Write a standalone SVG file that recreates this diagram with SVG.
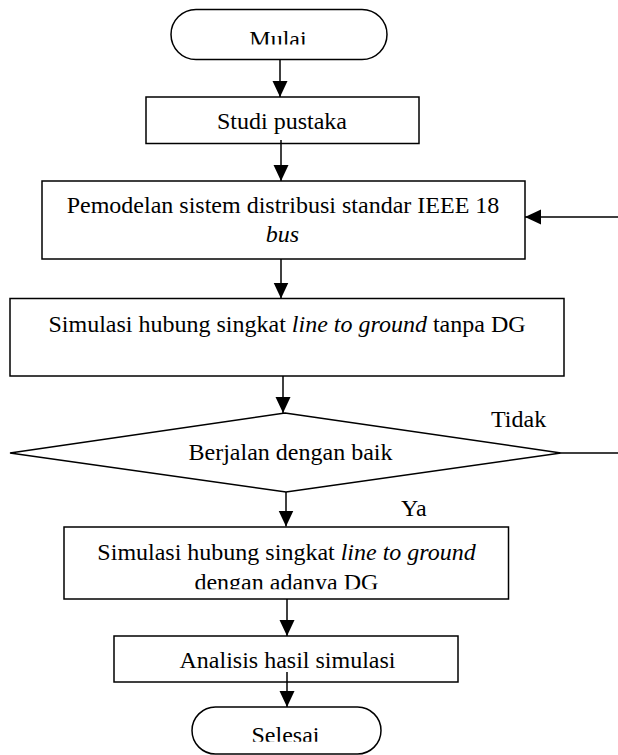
<svg xmlns="http://www.w3.org/2000/svg" width="618" height="755" viewBox="0 0 618 755">
  <style>
    .box { fill: #ffffff; stroke: #000000; stroke-width: 1.5; }
    .lbl { font-family: "Liberation Serif", "Times New Roman", serif; font-size: 24px; fill: #000000; text-anchor: middle; }
    .lbl-l { font-family: "Liberation Serif", "Times New Roman", serif; font-size: 24px; fill: #000000; }
    .it { font-style: italic; }
    .conn { fill: none; stroke: #000000; stroke-width: 1.5; }
  </style>
  <defs>
    <marker id="arrow" markerUnits="userSpaceOnUse" markerWidth="17" markerHeight="16" refX="16" refY="7.5" orient="auto">
      <path d="M0,0 L16,7.5 L0,15 Z" fill="#000000"/>
    </marker>
    <clipPath id="clipMulai"><rect x="0" y="0" width="618" height="44.5"/></clipPath>
    <clipPath id="clipSim2"><rect x="0" y="565" width="618" height="24.3"/></clipPath>
    <clipPath id="clipSelesai"><rect x="0" y="700" width="618" height="41.7"/></clipPath>
  </defs>
  <rect x="0" y="0" width="618" height="755" fill="#ffffff"/>

  <g id="mulai">
    <rect class="box" x="171" y="9.5" width="216" height="50" rx="25" ry="25"/>
    <text class="lbl" x="278" y="47" clip-path="url(#clipMulai)">Mulai</text>
  </g>

  <g id="studi-pustaka">
    <rect class="box" x="146" y="97" width="273" height="46.5"/>
    <text class="lbl" x="282" y="128.5">Studi pustaka</text>
  </g>

  <g id="pemodelan">
    <rect class="box" x="42" y="181" width="483" height="78"/>
    <text class="lbl" x="283" y="212.7">Pemodelan sistem distribusi standar IEEE 18</text>
    <text class="lbl it" x="282.5" y="241.7">bus</text>
  </g>

  <g id="simulasi-tanpa-dg">
    <rect class="box" x="10" y="298.5" width="554" height="77.5"/>
    <text class="lbl" x="287" y="331.7">Simulasi hubung singkat <tspan class="it">line to ground</tspan> tanpa DG</text>
  </g>

  <g id="keputusan">
    <polygon class="box" points="285,413 561,453 286,492 10,453"/>
    <text class="lbl" x="290.5" y="460">Berjalan dengan baik</text>
  </g>

  <g id="simulasi-dengan-dg">
    <rect class="box" x="64" y="527" width="444.5" height="72"/>
    <text class="lbl" x="286.6" y="560">Simulasi hubung singkat <tspan class="it">line to ground</tspan></text>
    <text class="lbl" x="286.4" y="589.5" clip-path="url(#clipSim2)">dengan adanya DG</text>
  </g>

  <g id="analisis">
    <rect class="box" x="114" y="636" width="344" height="46"/>
    <text class="lbl" x="287.5" y="668.3">Analisis hasil simulasi</text>
  </g>

  <g id="selesai">
    <rect class="box" x="192" y="707" width="189" height="47" rx="23.5" ry="23.5"/>
    <text class="lbl" x="285.5" y="743" clip-path="url(#clipSelesai)">Selesai</text>
  </g>

  <g id="connectors">
    <line class="conn" x1="280" y1="59.5" x2="280" y2="97" marker-end="url(#arrow)"/>
    <line class="conn" x1="281" y1="140" x2="281" y2="181" marker-end="url(#arrow)"/>
    <line class="conn" x1="281" y1="259" x2="281" y2="298.5" marker-end="url(#arrow)"/>
    <line class="conn" x1="283" y1="376" x2="283" y2="413" marker-end="url(#arrow)"/>
    <line class="conn" x1="286" y1="492" x2="286" y2="526.5" marker-end="url(#arrow)"/>
    <line class="conn" x1="287" y1="599" x2="287" y2="636" marker-end="url(#arrow)"/>
    <line class="conn" x1="287" y1="672" x2="287" y2="707" marker-end="url(#arrow)"/>
    <path class="conn" d="M561,453 H622 V217 H525" marker-end="url(#arrow)"/>
    <text class="lbl-l" x="491" y="426.7">Tidak</text>
    <text class="lbl-l" x="401" y="515.5">Ya</text>
  </g>
</svg>
